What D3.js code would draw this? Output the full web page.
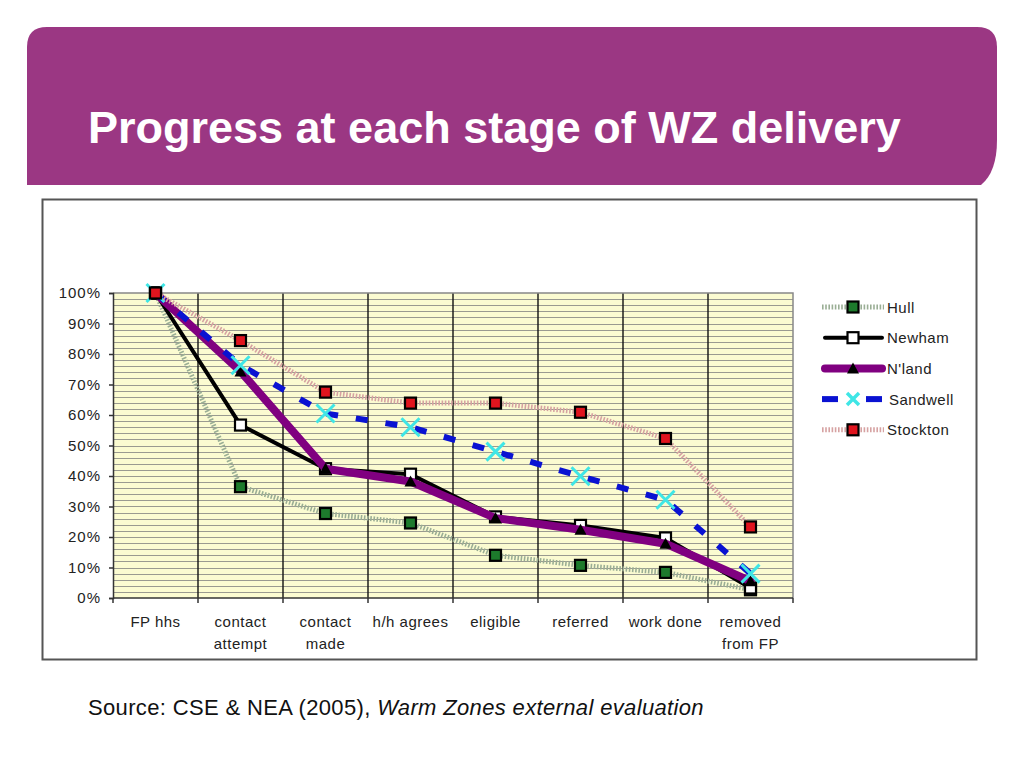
<!DOCTYPE html>
<html><head><meta charset="utf-8">
<script src="https://cdn.jsdelivr.net/npm/d3@7"></script>
<style>body{margin:0;background:#fff;} svg{display:block;}</style>
</head><body><svg width="1024" height="768"></svg>
<script>
// ---- data ----
const categories = ["FP hhs", "contact\nattempt", "contact\nmade", "h/h agrees", "eligible", "referred", "work done", "removed\nfrom FP"];
const seriesNames = ["Hull", "Newham", "N'land", "Sandwell", "Stockton"];
const hull     = [100, 36.5, 27.7, 24.6, 14.0, 10.7, 8.4, 2.7];
const newham   = [100, 56.7, 42.4, 40.6, 26.6, 23.8, 19.7, 3.3];
const nland    = [100, 74.3, 42.4, 38.2, 26.2, 22.4, 17.8, 5.5];
const sandwell = [100, 76.3, 60.5, 56.0, 48.0, 39.9, 32.2, 8.0];
const stockton = [100, 84.4, 67.5, 63.9, 63.9, 60.9, 52.3, 23.3];
const yTicks = [0, 10, 20, 30, 40, 50, 60, 70, 80, 90, 100];
const title = "Progress at each stage of WZ delivery";
const sourceText = "Source: CSE & NEA (2005), ";
const sourceItalic = "Warm Zones external evaluation";

const svg = d3.select("svg");

// header band
const hp = d3.path();
hp.moveTo(27, 185); hp.lineTo(27, 47); hp.quadraticCurveTo(27, 27, 47, 27);
hp.lineTo(977, 27); hp.quadraticCurveTo(997, 27, 997, 47);
hp.lineTo(997, 140); hp.quadraticCurveTo(997, 172, 981, 185); hp.closePath();
svg.append("path").attr("d", hp.toString()).attr("fill", "#9b3783");
svg.append("text").attr("x", 88).attr("y", 143).text(title)
  .attr("fill", "#fff").attr("font-family", "Liberation Sans, Arial, sans-serif")
  .attr("font-weight", "bold").attr("font-size", 45);

// chart frame
svg.append("rect").attr("x", 42.5).attr("y", 199.5).attr("width", 934).attr("height", 460)
  .attr("fill", "#fff").attr("stroke", "#555").attr("stroke-width", 2);

// scales
const x = d3.scaleBand().domain(categories).range([113, 793]);
const y = d3.scaleLinear().domain([0, 100]).range([598, 293]);
const font = "Liberation Sans, Arial, sans-serif";

// plot background
svg.append("rect").attr("x", 113).attr("y", y(100)).attr("width", 680).attr("height", y(0) - y(100))
  .attr("fill", "#fbfbd1");
// minor horizontal grid every 2%
svg.append("g").selectAll("line").data(d3.range(2, 100, 2)).join("line")
  .attr("x1", 113).attr("x2", 793).attr("y1", d => Math.round(y(d)) + 0.5).attr("y2", d => Math.round(y(d)) + 0.5)
  .attr("stroke", "#9a9a90").attr("stroke-width", 1);
// vertical grid at category boundaries
const bounds = categories.map(c => x(c)).concat([x.range()[1]]);
svg.append("g").selectAll("line").data(bounds.slice(1, -1)).join("line")
  .attr("x1", d => d).attr("x2", d => d).attr("y1", y(100)).attr("y2", y(0))
  .attr("stroke", "#111").attr("stroke-width", 1.4);
// plot border top/right
svg.append("path").attr("d", `M113,${y(100)}H793V${y(0)}`).attr("fill", "none")
  .attr("stroke", "#888").attr("stroke-width", 1.5);

// y axis
const yAxis = svg.append("g").attr("transform", "translate(113,0)")
  .call(d3.axisLeft(y).tickValues(yTicks).tickSize(4).tickPadding(8).tickFormat(d => d + "%"));
yAxis.select(".domain").attr("stroke", "#333").attr("stroke-width", 1.5);
yAxis.selectAll(".tick line").attr("stroke", "#333").attr("stroke-width", 1.5);
yAxis.selectAll(".tick text").attr("font-family", font).attr("font-size", 15)
  .attr("letter-spacing", 1).attr("fill", "#222");

// x axis
svg.append("line").attr("x1", 113).attr("x2", 793).attr("y1", y(0)).attr("y2", y(0))
  .attr("stroke", "#333").attr("stroke-width", 1.5);
svg.append("g").selectAll("line").data(bounds).join("line")
  .attr("x1", d => d).attr("x2", d => d).attr("y1", y(0)).attr("y2", y(0) + 5)
  .attr("stroke", "#333").attr("stroke-width", 1.5);
const xl = svg.append("g").selectAll("text").data(categories).join("text")
  .attr("x", d => x(d) + x.bandwidth() / 2).attr("y", 627)
  .attr("text-anchor", "middle").attr("font-family", font).attr("font-size", 15)
  .attr("letter-spacing", 0.5).attr("fill", "#222");
xl.selectAll("tspan").data(d => d.split("\n")).join("tspan")
  .attr("x", function() { return this.parentNode.getAttribute("x"); })
  .attr("dy", (d, i) => i === 0 ? 0 : 22).text(d => d);

// series
const cx = (d, i) => x(categories[i]) + x.bandwidth() / 2;
const line = d3.line().x(cx).y(d => y(d));
const styles = [
  { data: hull, stroke: "#9aae95", width: 5, dash: "1.6,1.6", cap: "butt", marker: "square", fill: "#1d7a2c" },
  { data: newham, stroke: "#000", width: 4, dash: null, cap: "round", marker: "square", fill: "#fff" },
  { data: nland, stroke: "#800080", width: 8, dash: null, cap: "round", marker: "triangle", fill: "#000" },
  { data: sandwell, stroke: "#0a12d2", width: 6, dash: "12,18", cap: "butt", marker: "x", fill: "#3fe6e6" },
  { data: stockton, stroke: "#d6a2a2", width: 5, dash: "1.6,1.6", cap: "butt", marker: "square", fill: "#e0141e" }
];
const plot = svg.append("g");
function drawMarker(g, s, px, py) {
  if (s.marker === "square") {
    g.append("rect").attr("x", px - 5.5).attr("y", py - 5.5).attr("width", 11).attr("height", 11)
      .attr("fill", s.fill).attr("stroke", "#000").attr("stroke-width", 2.2);
  } else if (s.marker === "triangle") {
    g.append("path").attr("d", `M${px},${py - 6}L${px + 6},${py + 5}L${px - 6},${py + 5}Z`).attr("fill", s.fill);
  } else {
    g.append("path").attr("d", `M${px - 9},${py - 9}L${px + 9},${py + 9}M${px + 9},${py - 9}L${px - 9},${py + 9}`)
      .attr("stroke", s.fill).attr("stroke-width", 3).attr("fill", "none");
  }
}
styles.forEach(s => {
  const g = plot.append("g");
  g.append("path").datum(s.data).attr("d", line).attr("fill", "none")
    .attr("stroke", s.stroke).attr("stroke-width", s.width).attr("stroke-linecap", s.cap)
    .attr("stroke-linejoin", "round").attr("stroke-dasharray", s.dash);
  s.data.forEach((d, i) => drawMarker(g, s, cx(d, i), y(d)));
});

// legend
const lg = svg.append("g");
seriesNames.forEach((name, i) => {
  const s = styles[i];
  const ly = 307 + i * 30.7;
  if (s.marker === "x") {
    lg.append("line").attr("x1", 822).attr("x2", 838).attr("y1", ly).attr("y2", ly)
      .attr("stroke", s.stroke).attr("stroke-width", s.width);
    lg.append("line").attr("x1", 866).attr("x2", 882).attr("y1", ly).attr("y2", ly)
      .attr("stroke", s.stroke).attr("stroke-width", s.width);
  } else {
    lg.append("line").attr("x1", s.cap === "round" ? 825 : 822).attr("x2", s.cap === "round" ? 882 : 884)
      .attr("y1", ly).attr("y2", ly).attr("stroke", s.stroke).attr("stroke-width", s.width)
      .attr("stroke-linecap", s.cap).attr("stroke-dasharray", s.dash);
  }
  if (s.marker === "x") {
    lg.append("path").attr("d", `M${853 - 6},${ly - 6}L${853 + 6},${ly + 6}M${853 + 6},${ly - 6}L${853 - 6},${ly + 6}`)
      .attr("stroke", s.fill).attr("stroke-width", 3.5);
  } else drawMarker(lg, s, 853, ly);
  lg.append("text").attr("x", s.marker === "x" ? 889 : 887).attr("y", ly + 5.5).text(name)
    .attr("font-family", font).attr("font-size", 15).attr("letter-spacing", 0.5).attr("fill", "#222");
});

// source
const st = svg.append("text").attr("x", 88).attr("y", 715).attr("font-family", font)
  .attr("font-size", 22).attr("letter-spacing", 0.35).attr("fill", "#111");
st.append("tspan").text(sourceText);
st.append("tspan").attr("font-style", "italic").text(sourceItalic);
</script></body></html>
